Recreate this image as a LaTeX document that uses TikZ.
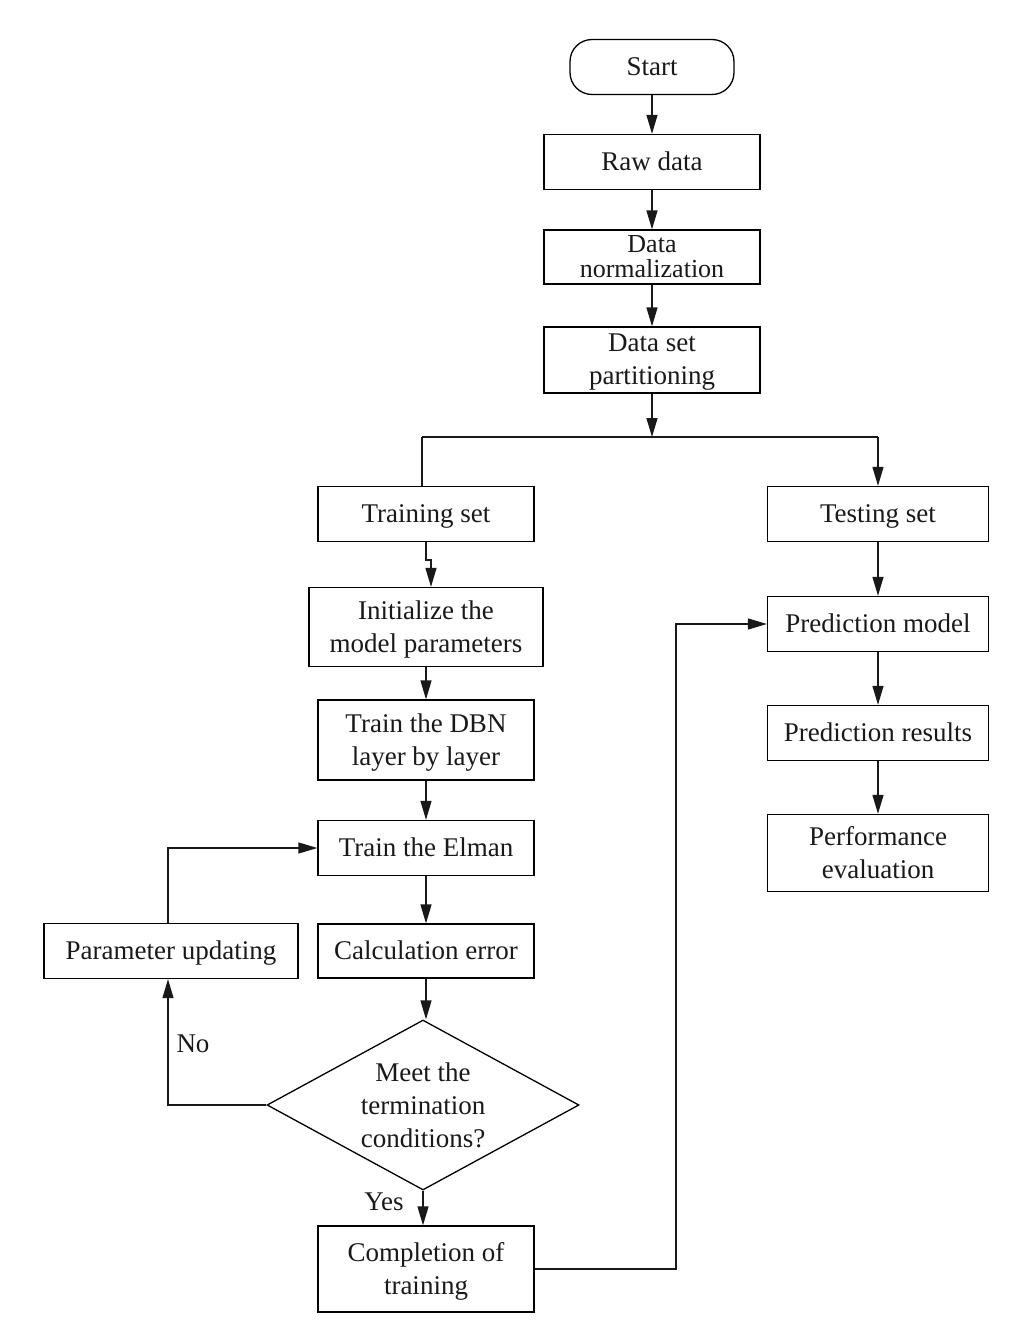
\documentclass[tikz,border=0pt]{standalone}
\usepackage{fontspec}
\setmainfont{Liberation Serif}
\usetikzlibrary{shapes.geometric,arrows.meta}
\begin{document}
\begin{tikzpicture}[x=1pt,y=-1pt,
  every node/.style={font=\fontsize{27}{33}\selectfont, text=black!90},
  box/.style={draw, line width=1.3pt, inner sep=0pt, align=center, minimum width=216pt, minimum height=55pt, text depth=1pt},
  rbox/.style={draw, line width=1.3pt, inner sep=0pt, align=center, minimum width=221pt, minimum height=55pt, text depth=1pt},
  term/.style={draw, line width=1.3pt, rounded corners=22pt, minimum width=164pt, minimum height=55pt, inner sep=0pt},
  dec/.style={draw, line width=1.3pt, diamond, aspect=1.835, inner sep=0pt, minimum width=312pt, minimum height=170pt, align=center},
  conn/.style={line width=1.3pt, draw=black!90},
  arr/.style={conn, -{Triangle[length=19pt,width=11pt]}},
  lab/.style={inner sep=0pt}
]
\useasboundingbox (0,0) rectangle (1032,1328);

\node[term] (start) at (652,67) {Start};
\node[box] (raw) at (652,162) {Raw data};
\node[box, minimum height=54pt, font=\fontsize{26}{24.5}\selectfont] (norm) at (652,257) {Data\\normalization};
\node[box, minimum height=66pt] (part) at (652,360) {Data set\\partitioning};
\coordinate (j) at (652,437);
\coordinate (jl) at (422,437);
\coordinate (jr) at (878,437);

\node[box] (train) at (426,514) {Training set};
\node[box, minimum width=234pt, minimum height=79pt] (init) at (426,627) {Initialize the\\model parameters};
\node[box, minimum height=80pt] (dbn) at (426,740) {Train the DBN\\layer by layer};
\node[box] (elman) at (426,848) {Train the Elman};
\node[box, minimum height=54pt] (calc) at (426,951) {Calculation error};
\node[dec] (meet) at (423,1105) {Meet the\\termination\\conditions?};
\node[box, minimum height=86pt] (comp) at (426,1269) {Completion of\\training};
\node[box, minimum width=254pt] (upd) at (171,951) {Parameter updating};

\node[rbox] (test) at (878,514) {Testing set};
\node[rbox] (pm) at (878,624) {Prediction model};
\node[rbox] (pr) at (878,733) {Prediction results};
\node[rbox, minimum height=77pt] (pe) at (878,853) {Performance\\evaluation};

\node[lab] (no) at (193,1044) {No};
\node[lab] (yes) at (384,1202) {Yes};

\coordinate (t1) at (426,560);
\coordinate (t2) at (431,560);
\coordinate (u1) at (168,848);
\coordinate (n1) at (168,1105);
\coordinate (c1) at (676,1269);
\coordinate (c2) at (676,624);

\draw[arr] (start) -- (raw);
\draw[arr] (raw) -- (norm);
\draw[arr] (norm) -- (part);
\draw[arr] (part) -- (j);
\draw[conn] (jl) -- (jr);
\draw[conn] (jl) -- (jl |- train.north);
\draw[arr] (jr) -- (test);
\draw[arr] (train.south) -- (t1) -- (t2) -- (t2 |- init.north);
\draw[arr] (init) -- (dbn);
\draw[arr] (dbn) -- (elman);
\draw[arr] (elman) -- (calc);
\draw[arr] (calc.south) -- (calc.south |- meet.north);
\draw[arr] (meet.south) -- (meet.south |- comp.north);
\draw[arr] (meet.west) -- (n1) -- (n1 |- upd.south);
\draw[arr] (u1 |- upd.north) -- (u1) -- (elman.west);
\draw[arr] (comp.east) -- (c1) -- (c2) -- (pm.west);
\draw[arr] (test) -- (pm);
\draw[arr] (pm) -- (pr);
\draw[arr] (pr) -- (pe);
\end{tikzpicture}
\end{document}
